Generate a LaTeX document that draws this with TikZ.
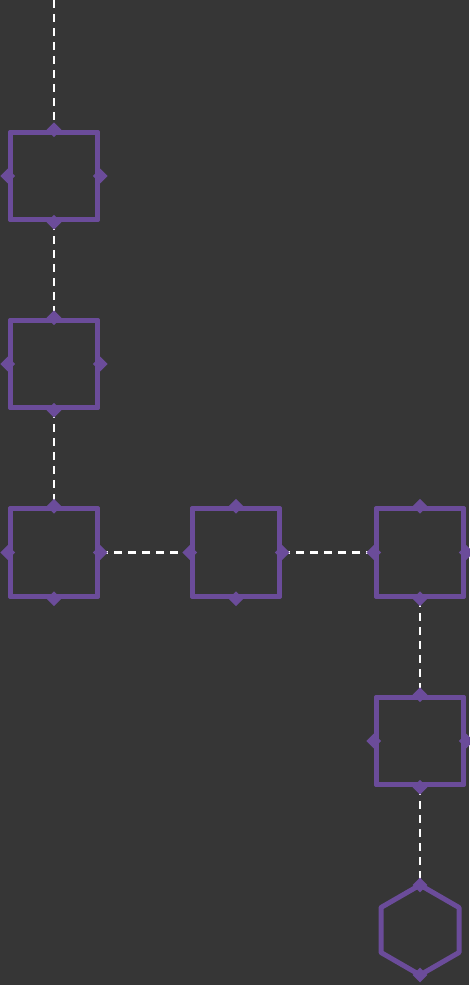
\documentclass[tikz,border=0pt]{standalone}
\usetikzlibrary{shapes.geometric}
\definecolor{bg}{HTML}{363636}
\definecolor{pur}{HTML}{6B4C9A}
\begin{document}
\begin{tikzpicture}[x=1pt,y=-1pt,
  box/.style={draw=pur,line width=5pt,line join=round,rectangle,minimum width=87.5pt,minimum height=87.5pt,inner sep=0pt},
  marker/.style={diamond,fill=pur,minimum width=15pt,minimum height=15pt,inner sep=0pt},
  link/.style={draw=white,line width=2.5pt,dash pattern=on 8pt off 6pt}]
\fill[bg] (0,0) rectangle (469,985);
\useasboundingbox (0,0) rectangle (469,985);
\coordinate (top) at (54,0);
\node[box] (b1) at (54,176) {};
\node[box] (b2) at (54,364) {};
\node[box] (b3) at (54,552.5) {};
\node[box] (b4) at (236,552.5) {};
\node[box] (b5) at (420,552.5) {};
\node[box] (b6) at (420,741) {};
\coordinate (hT) at (420,885);
\coordinate (hB) at (420,975);
\draw[link] (top) -- (b1.north);
\draw[link] (b1.south) -- (b2.north);
\draw[link] (b2.south) -- (b3.north);
\draw[link] (b3.east) -- (b4.west);
\draw[link] (b4.east) -- (b5.west);
\draw[link] (b5.south) -- (b6.north);
\draw[link] (b6.south) -- (hT);
\foreach \n in {b1,b2,b3,b4,b5,b6}{
  \node[box] at (\n) {};
  \foreach \a in {north,south,east,west}{\node[marker] at (\n.\a) {};}
}
\draw[pur,line width=5pt,line join=round] (hT) -- ++(39,22.5) -- ++(0,45) -- (hB) -- ++(-39,-22.5) -- ++(0,-45) -- cycle;
\node[marker] at (hT) {};
\node[marker] at (hB) {};
\end{tikzpicture}
\end{document}
